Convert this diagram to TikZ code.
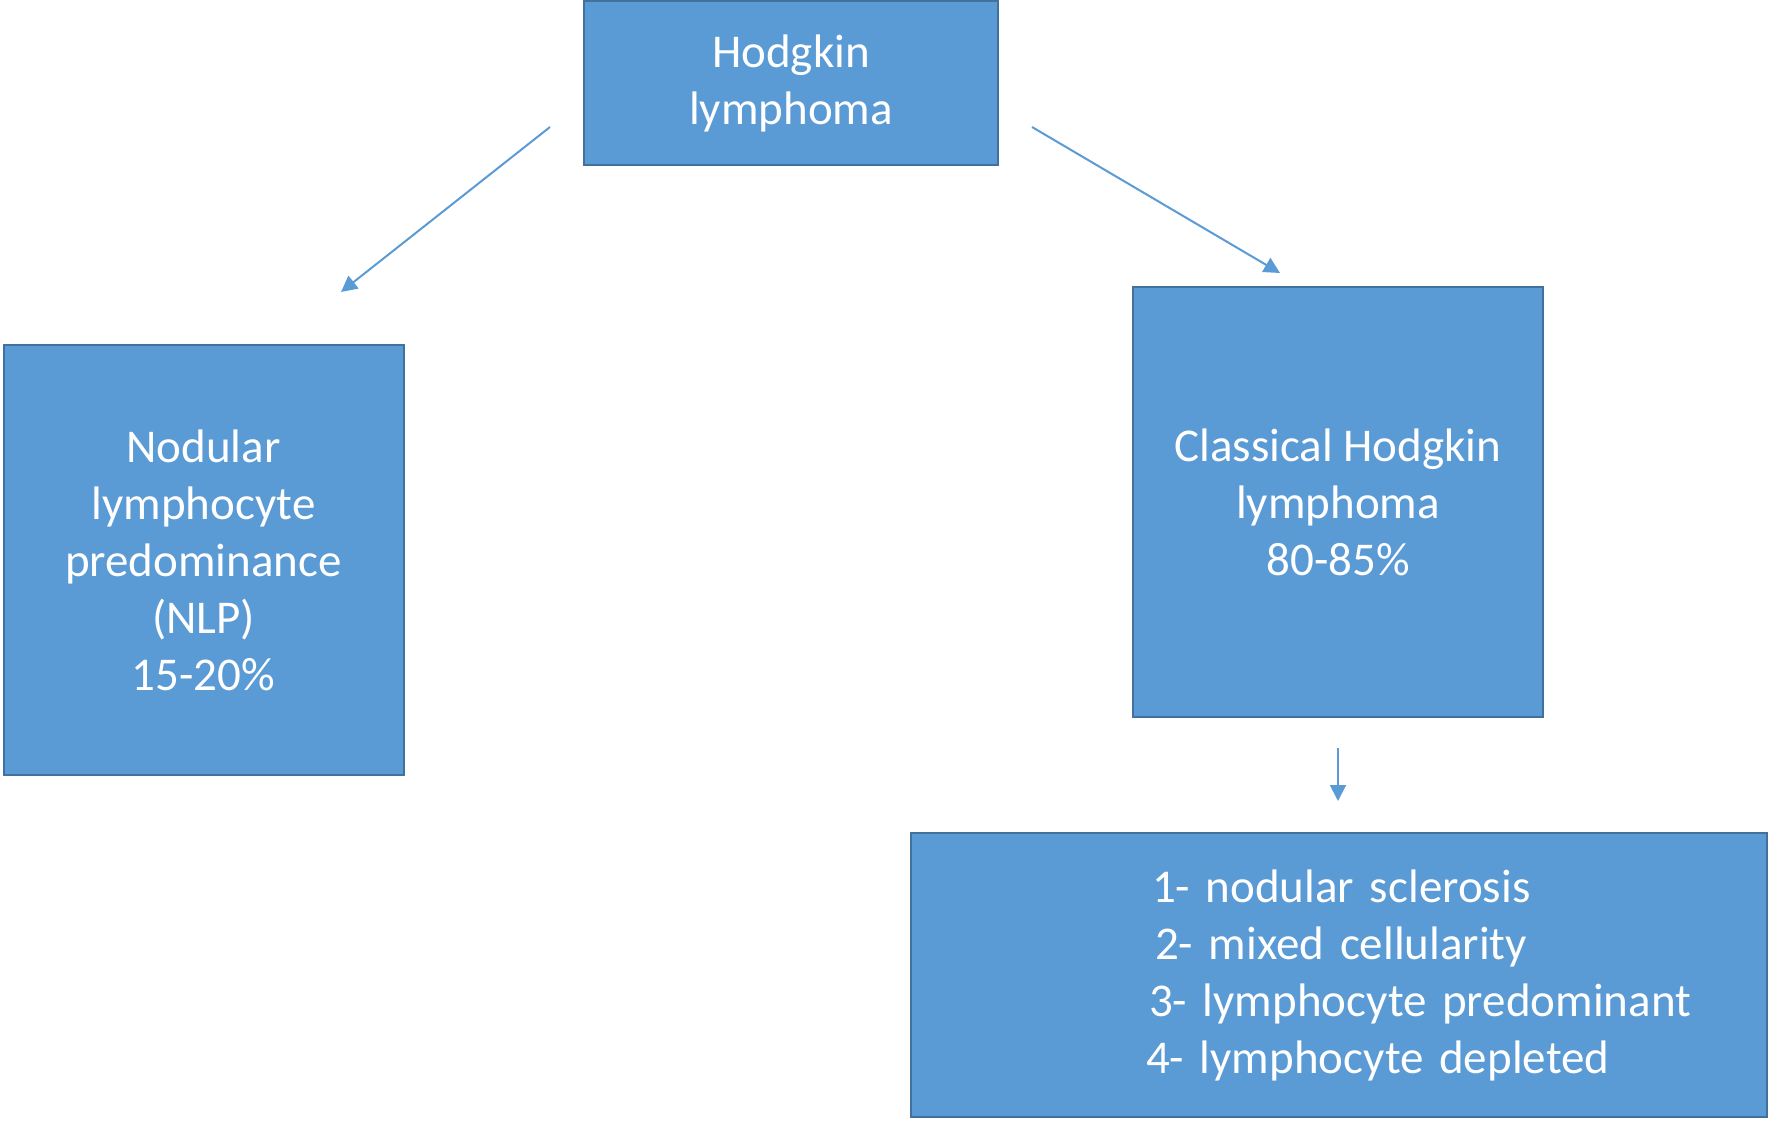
\documentclass[tikz,border=0pt]{standalone}
\usepackage{fontspec}
\setmainfont{Carlito}
\usetikzlibrary{arrows.meta}
\definecolor{boxblue}{HTML}{5B9BD5}
\definecolor{boxedge}{HTML}{41719C}

\begin{document}
\begin{tikzpicture}[
            x=0.5pt, y=-0.5pt,
            box/.style={
                rectangle,
                draw=boxedge,
                fill=boxblue,
                line width=1pt,
                text=white,
                align=center,
                inner sep=0pt,
                font=\fontsize{23.5}{28.5}\selectfont
            },
            arr/.style={
                draw=boxblue,
                line width=1pt,
                -{Triangle[length=8pt,width=8pt]}
            }
        ]
        \useasboundingbox (0,0) rectangle (1768,1124);

        % Cajas
        \node[box, minimum width=207pt, minimum height=82pt]  (hl)  at (791,83)    {Hodgkin\\lymphoma};
        \node[box, minimum width=200pt, minimum height=215pt] (nlp) at (203.5,560) {Nodular\\lymphocyte\\predominance\\(NLP)\\15-20\%};
        \node[box, minimum width=205pt, minimum height=215pt] (chl) at (1338,502)  {Classical Hodgkin\\lymphoma\\80-85\%};
        \node[box, minimum width=428pt, minimum height=142pt, text width=428pt, align=left] (sub) at (1339,975)
            {\hspace*{120.5pt}1- nodular sclerosis\\
             \hspace*{122pt}2- mixed cellularity\\
             \hspace*{119pt}3- lymphocyte predominant\\
             \hspace*{117.5pt}4- lymphocyte depleted};

        % Puntos de las flechas
        \coordinate (hlL)  at (550,127);
        \coordinate (nlpT) at (341,292);
        \coordinate (hlR)  at (1032,127);
        \coordinate (chlT) at (1280,273);
        \coordinate (chlB) at (1338,748);
        \coordinate (subT) at (1338,801);

        % Flechas
        \draw[arr] (hlL) -- (nlpT);
        \draw[arr] (hlR) -- (chlT);
        \draw[arr] (chlB) -- (subT);

        \end{tikzpicture}
\end{document}
